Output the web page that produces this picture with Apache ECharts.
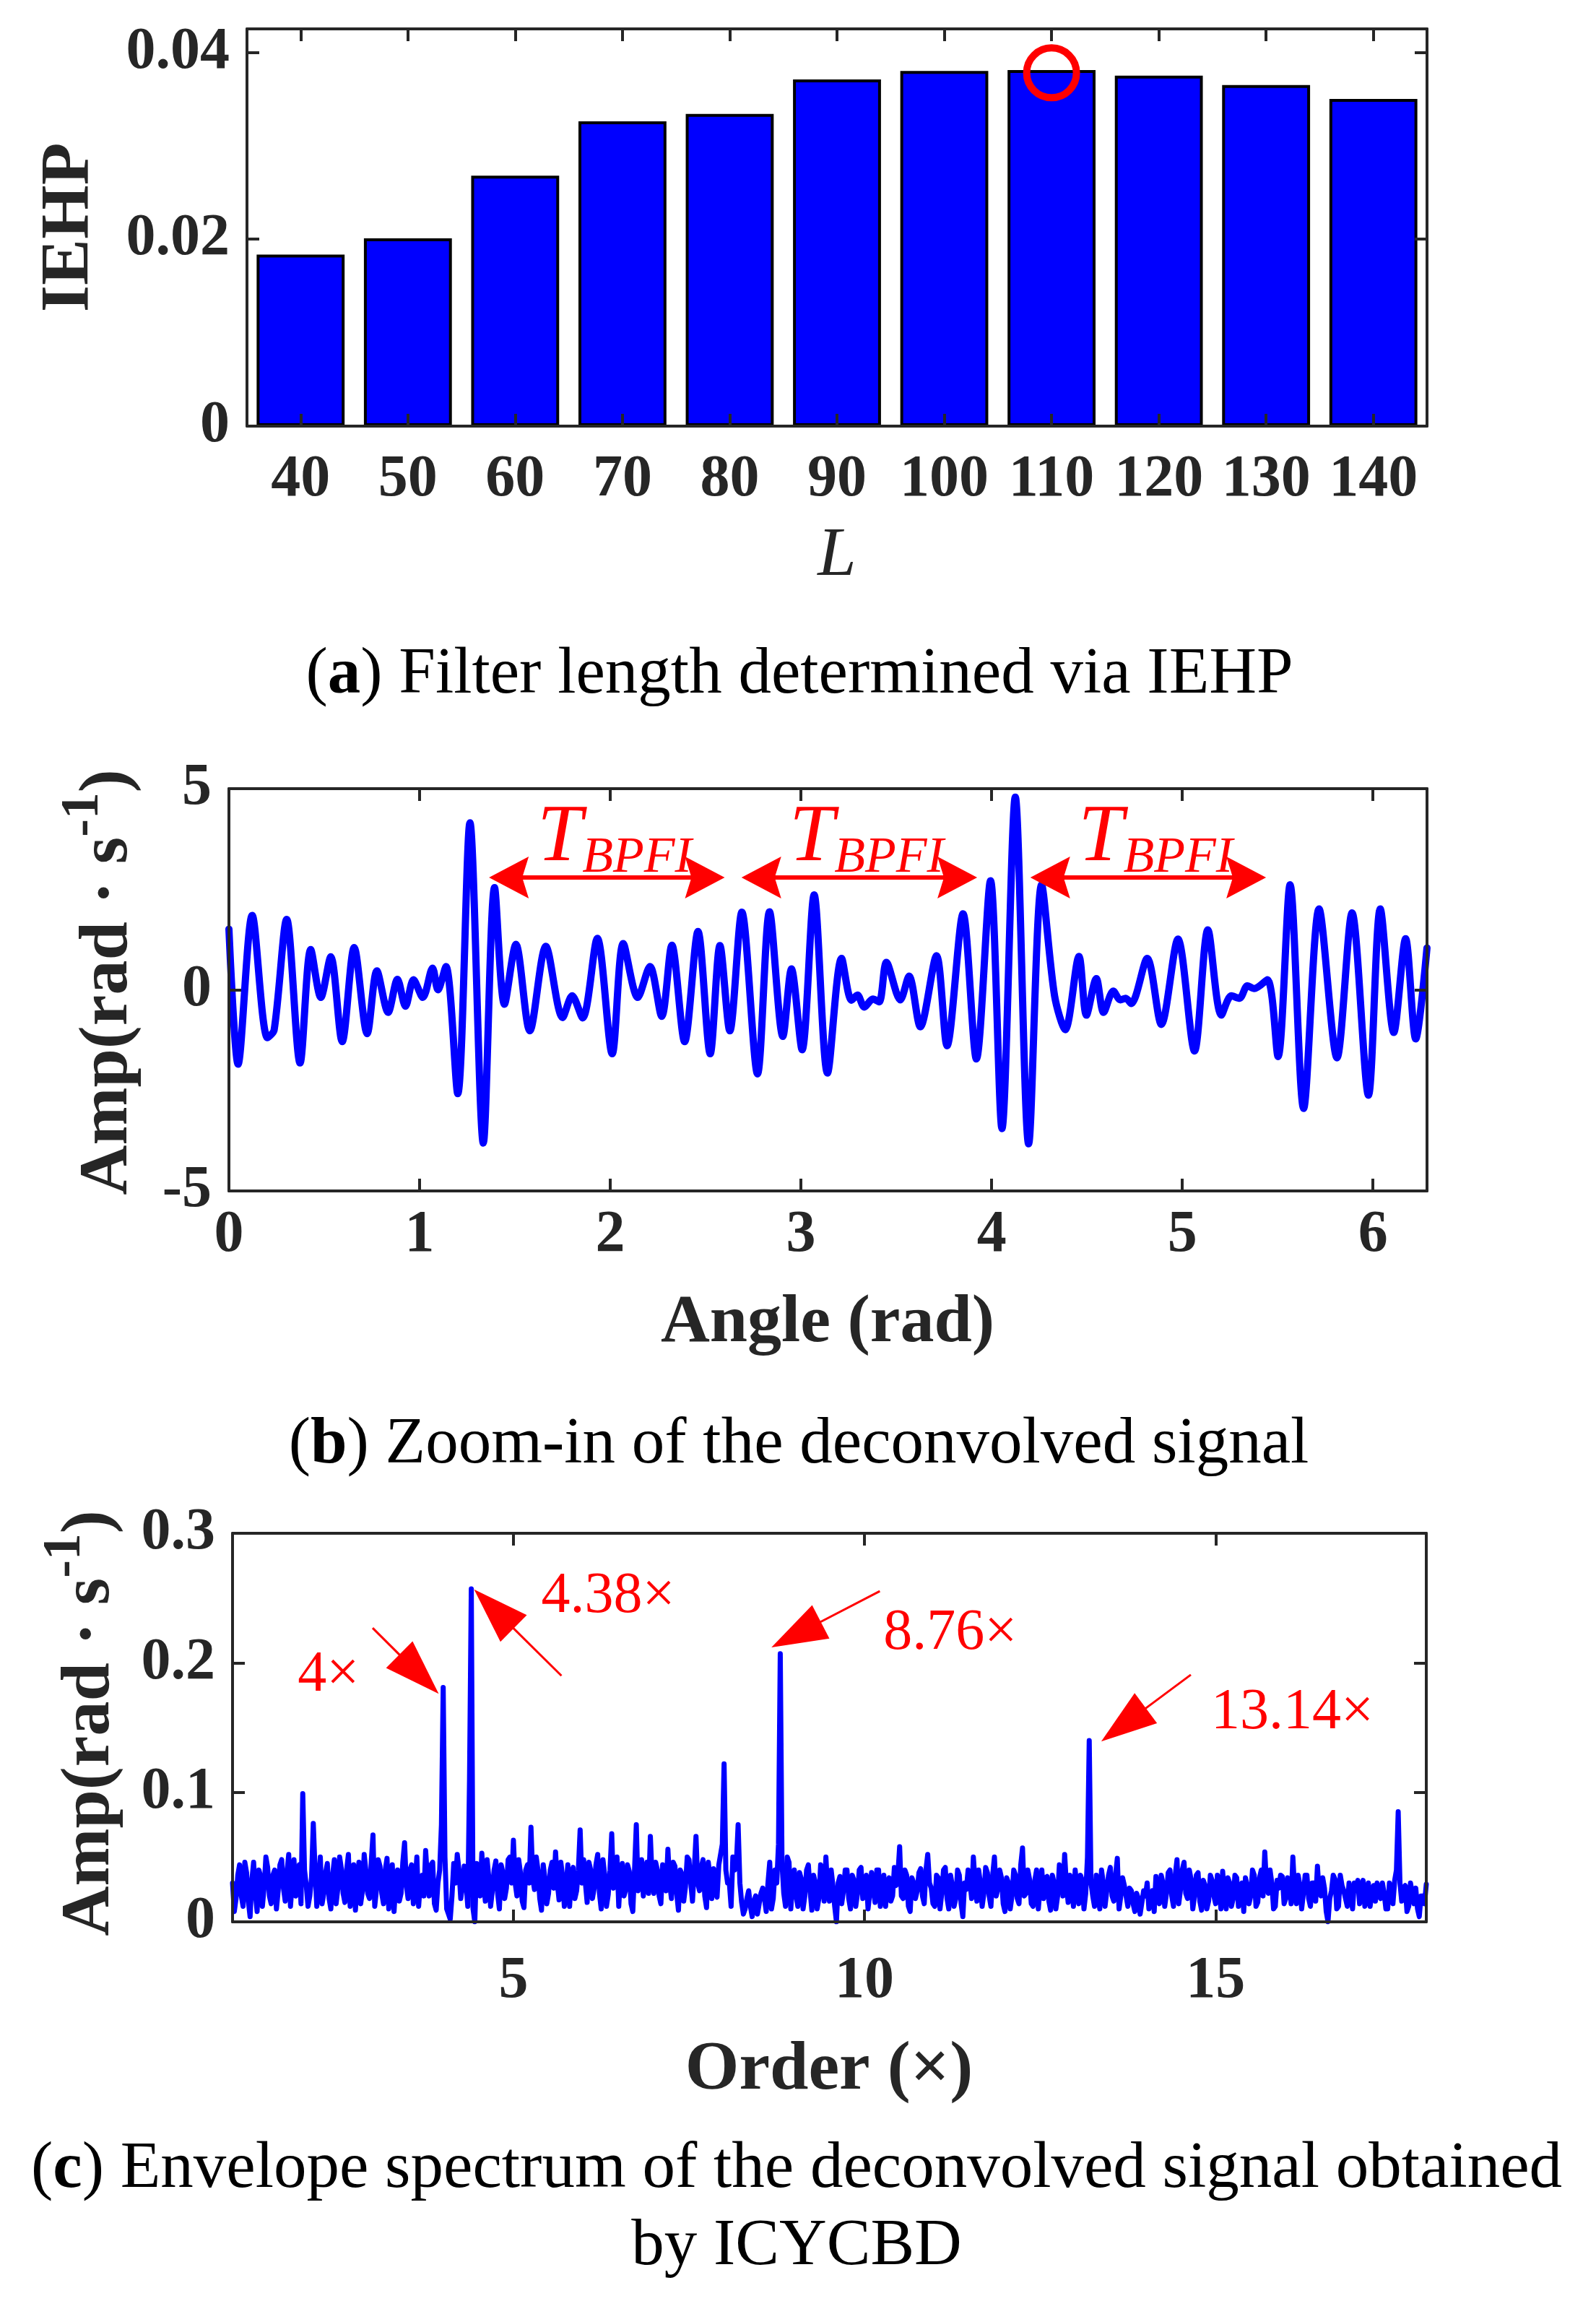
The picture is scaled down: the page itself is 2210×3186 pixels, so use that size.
<!DOCTYPE html>
<html><head><meta charset="utf-8">
<script src="https://cdn.jsdelivr.net/npm/echarts@6/dist/echarts.min.js"></script>
<style>html,body{margin:0;padding:0;background:#fff;}#chart{width:2210px;height:3186px;}</style>
</head><body><div id="chart"></div>
<script>
// ---------- (a) IEHP vs filter length ----------
const filterLengths = ['40','50','60','70','80','90','100','110','120','130','140'];
const iehpValues = [0.01835,0.0201,0.0268,0.0326,0.0334,0.0371,0.0380,0.0381,0.0375,0.0365,0.0350];
const bestLength = '110';
const bestMarkerValue = 0.0378;

// ---------- (b) deconvolved signal (peaks / troughs) ----------
const angleRad = [0.000,0.048,0.122,0.202,0.237,0.303,0.373,0.429,0.482,0.534,0.594,0.657,0.725,0.776,0.835,0.884,0.926,0.968,1.017,1.068,1.096,1.138,1.200,1.264,1.334,1.393,1.445,1.505,1.578,1.662,1.750,1.800,1.855,1.932,2.010,2.068,2.144,2.208,2.270,2.323,2.390,2.460,2.524,2.575,2.627,2.690,2.772,2.835,2.905,2.950,3.006,3.069,3.139,3.213,3.265,3.296,3.332,3.377,3.410,3.448,3.521,3.567,3.626,3.711,3.766,3.850,3.920,3.994,4.054,4.124,4.194,4.262,4.330,4.386,4.458,4.497,4.549,4.587,4.638,4.675,4.703,4.732,4.816,4.890,4.977,5.064,5.134,5.205,5.257,5.300,5.341,5.377,5.446,5.502,5.565,5.636,5.717,5.811,5.890,5.976,6.038,6.109,6.171,6.224,6.283];
const ampDeconv = [1.51,-1.85,1.85,-1.19,-1.00,1.75,-1.82,1.00,-0.19,0.82,-1.29,1.05,-1.09,0.47,-0.56,0.26,-0.41,0.25,-0.19,0.54,0.00,0.58,-2.58,4.15,-3.81,2.54,-0.36,1.13,-1.02,1.08,-0.69,-0.15,-0.70,1.28,-1.59,1.15,-0.19,0.58,-0.66,1.11,-1.29,1.45,-1.59,1.10,-1.02,1.93,-2.09,1.94,-1.16,0.52,-1.49,2.36,-2.07,0.78,-0.26,-0.13,-0.43,-0.23,-0.30,0.68,-0.25,0.34,-0.92,0.85,-1.39,1.89,-1.72,2.71,-3.45,4.79,-3.83,2.61,-0.15,-0.99,0.83,-0.63,0.28,-0.56,-0.03,-0.25,-0.21,-0.34,0.78,-0.86,1.26,-1.52,1.49,-0.63,-0.15,-0.21,0.10,0.03,0.25,-1.66,2.61,-2.95,2.01,-1.69,1.91,-2.62,2.01,-1.06,1.27,-1.22,1.04];
const bpfiArrowStarts = [1.364, 2.688, 4.203];
const bpfiArrowEnds = [2.600, 3.924, 5.439];
const bpfiArrowAmp = 2.79;
const bpfiLabelAngles = [1.617, 2.939, 4.455];
const bpfiLabelAmp = 3.70;

// ---------- (c) envelope spectrum: values at orders 1.00, 1.05, ... 18.00 ----------
const orderStart = 1;
const orderStep = 0.05;
const envAmp = [
0.030,0.018,0.044,0.012,0.038,0.004,0.046,0.008,0.035,0.027,0.042,0.014,0.040,0.024,0.048,0.016,0.052,0.030,0.020,0.044,
0.099,0.028,0.020,0.076,0.012,0.050,0.022,0.045,0.010,0.048,0.026,0.041,0.015,0.052,0.030,0.009,0.046,0.024,0.039,0.018,
0.067,0.025,0.043,0.014,0.049,0.028,0.008,0.040,0.022,0.061,0.018,0.044,0.030,0.012,0.036,0.055,0.020,0.046,0.009,0.040,
0.181,0.010,0.002,0.045,0.052,0.018,0.043,0.012,0.257,0.000,0.030,0.053,0.016,0.034,0.024,0.047,0.010,0.038,0.026,0.050,
0.063,0.020,0.038,0.011,0.044,0.073,0.025,0.040,0.009,0.033,0.022,0.046,0.054,0.017,0.035,0.028,0.012,0.042,0.024,0.071,
0.048,0.015,0.040,0.026,0.052,0.010,0.036,0.021,0.068,0.030,0.012,0.045,0.025,0.039,0.008,0.075,0.032,0.020,0.046,0.066,
0.022,0.040,0.014,0.035,0.056,0.018,0.043,0.009,0.037,0.027,0.048,0.016,0.066,0.024,0.048,0.011,0.034,0.041,0.019,0.052,
0.122,0.030,0.012,0.040,0.075,0.015,0.010,0.024,0.004,0.020,0.014,0.026,0.008,0.046,0.018,0.030,0.207,0.022,0.050,0.010,
0.040,0.012,0.033,0.020,0.044,0.009,0.030,0.018,0.038,0.050,0.016,0.028,0.000,0.035,0.024,0.040,0.010,0.032,0.022,0.042,
0.030,0.010,0.038,0.015,0.040,0.022,0.012,0.034,0.020,0.028,0.058,0.018,0.036,0.008,0.030,0.024,0.041,0.014,0.052,0.026,
0.012,0.034,0.022,0.042,0.010,0.028,0.018,0.036,0.004,0.025,0.032,0.050,0.016,0.030,0.022,0.038,0.012,0.050,0.026,0.034,
0.008,0.030,0.020,0.036,0.014,0.057,0.022,0.033,0.012,0.040,0.026,0.018,0.035,0.009,0.030,0.020,0.038,0.052,0.015,0.028,
0.040,0.014,0.032,0.022,0.140,0.020,0.036,0.010,0.030,0.024,0.042,0.016,0.049,0.020,0.028,0.012,0.024,0.008,0.018,0.015,
0.020,0.010,0.024,0.035,0.014,0.030,0.022,0.040,0.012,0.048,0.025,0.046,0.018,0.033,0.020,0.038,0.009,0.028,0.016,0.032,
0.014,0.026,0.039,0.010,0.030,0.018,0.034,0.022,0.008,0.028,0.020,0.036,0.015,0.040,0.054,0.022,0.030,0.012,0.026,0.035,
0.018,0.032,0.050,0.014,0.028,0.022,0.036,0.012,0.030,0.043,0.020,0.026,0.000,0.024,0.033,0.012,0.028,0.018,0.030,0.010,
0.026,0.014,0.032,0.020,0.012,0.028,0.030,0.018,0.022,0.010,0.024,0.032,0.085,0.016,0.028,0.012,0.022,0.026,0.004,0.020,
0.029];
// values at the in-between orders 1.025, 1.075, ... 17.975
const envAmpMid = [
0.008,0.036,0.020,0.046,0.016,0.032,0.022,0.040,0.012,0.050,0.020,0.036,0.010,0.044,0.026,0.038,0.012,0.048,0.036,0.014,
0.040,0.012,0.034,0.040,0.030,0.014,0.038,0.018,0.036,0.014,0.050,0.022,0.040,0.012,0.044,0.030,0.014,0.052,0.022,0.046,
0.012,0.048,0.022,0.040,0.010,0.044,0.030,0.016,0.046,0.028,0.040,0.014,0.050,0.030,0.020,0.034,0.044,0.014,0.030,0.075,
0.050,0.006,0.020,0.030,0.040,0.028,0.030,0.110,0.010,0.045,0.020,0.030,0.048,0.012,0.040,0.022,0.044,0.018,0.048,0.030,
0.030,0.048,0.016,0.040,0.030,0.034,0.050,0.018,0.044,0.014,0.040,0.026,0.030,0.046,0.012,0.044,0.036,0.018,0.040,0.030,
0.030,0.046,0.018,0.044,0.022,0.048,0.012,0.040,0.026,0.050,0.036,0.020,0.044,0.014,0.040,0.024,0.048,0.034,0.022,0.034,
0.046,0.020,0.044,0.024,0.030,0.046,0.022,0.040,0.016,0.050,0.030,0.040,0.030,0.042,0.020,0.046,0.018,0.024,0.044,0.060,
0.040,0.030,0.050,0.045,0.030,0.006,0.018,0.012,0.016,0.006,0.022,0.018,0.030,0.010,0.040,0.060,0.045,0.012,0.046,0.030,
0.020,0.038,0.010,0.040,0.024,0.036,0.010,0.044,0.016,0.024,0.040,0.012,0.030,0.014,0.040,0.018,0.036,0.012,0.040,0.018,
0.036,0.022,0.026,0.040,0.012,0.036,0.030,0.016,0.042,0.036,0.020,0.040,0.012,0.034,0.018,0.038,0.020,0.040,0.030,0.014,
0.036,0.010,0.040,0.018,0.036,0.012,0.040,0.014,0.030,0.040,0.018,0.030,0.040,0.012,0.042,0.020,0.036,0.020,0.040,0.014,
0.034,0.010,0.040,0.018,0.044,0.020,0.040,0.014,0.032,0.010,0.040,0.034,0.016,0.036,0.010,0.044,0.020,0.028,0.036,0.012,
0.026,0.036,0.010,0.050,0.030,0.012,0.022,0.040,0.012,0.036,0.020,0.036,0.010,0.034,0.020,0.026,0.014,0.022,0.006,0.024,
0.030,0.020,0.008,0.022,0.036,0.012,0.038,0.020,0.036,0.014,0.040,0.022,0.040,0.010,0.036,0.016,0.032,0.010,0.036,0.020,
0.036,0.010,0.020,0.034,0.012,0.036,0.012,0.030,0.034,0.014,0.040,0.012,0.034,0.020,0.028,0.040,0.010,0.032,0.036,0.014,
0.034,0.014,0.024,0.036,0.010,0.036,0.018,0.030,0.016,0.022,0.034,0.008,0.018,0.036,0.010,0.036,0.024,0.012,0.020,0.030,
0.032,0.024,0.012,0.030,0.022,0.016,0.020,0.030,0.010,0.030,0.014,0.040,0.030,0.026,0.008,0.030,0.014,0.010,0.020,0.014];
const orderTicks = [5, 10, 15];
const peakLabels = ['4×', '4.38×', '8.76×', '13.14×'];
const peakLabelPos = [[1.927, 0.190], [5.397, 0.2508], [10.268, 0.2226], [14.934, 0.161]];
const peakArrowTails = [[2.995, 0.2269], [5.684, 0.190], [10.218, 0.2553], [14.647, 0.1908]];
const peakArrowTips = [[3.936, 0.176], [4.440, 0.2567], [8.674, 0.2119], [13.371, 0.1393]];

// ---------- styling ----------
const SERIF = 'Liberation Serif';
const AXC = '#262626';
const BLUE = '#0000FF';
const RED = '#FF0000';

function axisBase(extra) {
  return Object.assign({
    axisLine: { show: true, onZero: false, lineStyle: { color: AXC, width: 4 } },
    axisTick: { show: true, inside: true, length: 17, lineStyle: { color: AXC, width: 4 } },
    splitLine: { show: false },
    z: 5
  }, extra);
}
const tickLabel = (margin, extra) => Object.assign({
  fontFamily: SERIF, fontWeight: 'bold', fontSize: 82, color: AXC, margin: margin
}, extra || {});

const spectrumPoints = [];
envAmp.forEach((v, i) => {
  spectrumPoints.push([orderStart + i * orderStep, v]);
  if (i < envAmpMid.length) spectrumPoints.push([orderStart + (i + 0.5) * orderStep, envAmpMid[i]]);
});

const chart = echarts.init(document.getElementById('chart'), null, { renderer: 'canvas' });

const option = {
  animation: false,
  backgroundColor: '#ffffff',
  grid: [
    { left: 342, top: 40, width: 1634, height: 550 },
    { left: 317, top: 1092, width: 1659, height: 557 },
    { left: 322, top: 2123, width: 1653, height: 538 }
  ],
  xAxis: [
    axisBase({ type: 'category', gridIndex: 0, position: 'bottom', data: filterLengths,
      axisTick: { show: true, inside: true, length: 17, alignWithLabel: true, interval: 0, lineStyle: { color: AXC, width: 4 } },
      axisLabel: tickLabel(34, { interval: 0, hideOverlap: false }) }),
    axisBase({ type: 'category', gridIndex: 0, position: 'top', data: filterLengths,
      axisTick: { show: true, inside: true, length: 17, alignWithLabel: true, interval: 0, lineStyle: { color: AXC, width: 4 } },
      axisLabel: { show: false } }),
    axisBase({ type: 'value', gridIndex: 1, position: 'bottom', min: 0, max: 2 * Math.PI, interval: 1,
      axisLabel: tickLabel(21, { showMaxLabel: false }) }),
    axisBase({ type: 'value', gridIndex: 1, position: 'top', min: 0, max: 2 * Math.PI, interval: 1,
      axisLabel: { show: false } }),
    axisBase({ type: 'value', gridIndex: 2, position: 'bottom', min: 1, max: 18,
      axisTick: { show: true, inside: true, length: 17, customValues: orderTicks, lineStyle: { color: AXC, width: 4 } },
      axisLabel: tickLabel(42, { customValues: orderTicks }) }),
    axisBase({ type: 'value', gridIndex: 2, position: 'top', min: 1, max: 18,
      axisTick: { show: true, inside: true, length: 17, customValues: orderTicks, lineStyle: { color: AXC, width: 4 } },
      axisLabel: { show: false } })
  ],
  yAxis: [
    axisBase({ type: 'value', gridIndex: 0, position: 'left', min: 0, max: 0.0425, interval: 0.02,
      axisLabel: tickLabel(24, { showMaxLabel: false }) }),
    axisBase({ type: 'value', gridIndex: 0, position: 'right', min: 0, max: 0.0425, interval: 0.02,
      axisLabel: { show: false } }),
    axisBase({ type: 'value', gridIndex: 1, position: 'left', min: -5, max: 5, interval: 5,
      axisLabel: tickLabel(24) }),
    axisBase({ type: 'value', gridIndex: 1, position: 'right', min: -5, max: 5, interval: 5,
      axisLabel: { show: false } }),
    axisBase({ type: 'value', gridIndex: 2, position: 'left', min: 0, max: 0.3, interval: 0.1,
      axisLabel: tickLabel(24) }),
    axisBase({ type: 'value', gridIndex: 2, position: 'right', min: 0, max: 0.3, interval: 0.1,
      axisLabel: { show: false } })
  ],
  series: [
    { type: 'bar', xAxisIndex: 0, yAxisIndex: 0, data: iehpValues, barWidth: '82%',
      itemStyle: { color: BLUE, borderColor: '#000000', borderWidth: 4 }, z: 2 },
    { type: 'scatter', xAxisIndex: 0, yAxisIndex: 0, data: [[bestLength, bestMarkerValue]],
      symbol: 'circle', symbolSize: 69,
      itemStyle: { color: 'rgba(0,0,0,0)', borderColor: RED, borderWidth: 10, opacity: 1 }, z: 10 },
    { type: 'line', xAxisIndex: 2, yAxisIndex: 2, data: angleRad.map((a, i) => [a, ampDeconv[i]]),
      showSymbol: false, smooth: 0.3, clip: true,
      lineStyle: { color: BLUE, width: 10, join: 'round', cap: 'round' }, z: 3 },
    { type: 'line', xAxisIndex: 4, yAxisIndex: 4, data: spectrumPoints,
      showSymbol: false, smooth: false, clip: true,
      lineStyle: { color: BLUE, width: 7, join: 'round', cap: 'round' }, z: 3 }
  ]
};
chart.setOption(option);

// ---------- annotations & texts ----------
function px(axisIdx, pt) { return chart.convertToPixel({ xAxisIndex: axisIdx, yAxisIndex: axisIdx }, pt); }
function txt(x, y, text, font, extra) {
  return Object.assign({ type: 'text', x: x, y: y, z: 50,
    style: Object.assign({ text: text, fontFamily: SERIF, fill: '#000', align: 'center', verticalAlign: 'middle',
      textAlign: 'center', textVerticalAlign: 'middle' }, font) }, extra || {});
}
function headPoints(tip, dir, len, halfW, notch) {
  const n = [-dir[1], dir[0]];
  const bx = tip[0] - dir[0] * len, by = tip[1] - dir[1] * len;
  const pts = [tip, [bx + n[0] * halfW, by + n[1] * halfW]];
  if (notch) pts.push([tip[0] - dir[0] * notch, tip[1] - dir[1] * notch]);
  pts.push([bx - n[0] * halfW, by - n[1] * halfW]);
  return pts;
}
const graphics = [];

// axis titles and captions
graphics.push(txt(97, 315, 'IEHP', { fontSize: 96, fontWeight: 'bold', fill: AXC }, { rotation: Math.PI / 2 }));
graphics.push(txt(1159, 771, 'L', { fontSize: 96, fontStyle: 'italic', fill: AXC }));
const capRich = { n: { fontFamily: SERIF, fontSize: 91, fill: '#000' }, b: { fontFamily: SERIF, fontSize: 91, fontWeight: 'bold', fill: '#000' } };
graphics.push(txt(1107, 935, '{n|(}{b|a}{n|) Filter length determined via IEHP}', { rich: capRich }));

const ampRich = {
  m: { fontFamily: SERIF, fontSize: 96, fontWeight: 'bold', fill: AXC, lineHeight: 142, verticalAlign: 'middle' },
  s: { fontFamily: SERIF, fontSize: 74, fontWeight: 'bold', fill: AXC, lineHeight: 74, verticalAlign: 'top' }
};
const ampName = '{m|Amp(rad · s}{s|-1}{m|)}';
graphics.push(txt(150, 1360, ampName, { rich: ampRich }, { rotation: Math.PI / 2 }));
graphics.push(txt(1146, 1833, 'Angle (rad)', { fontSize: 94, fontWeight: 'bold', fill: AXC }));
graphics.push(txt(1106, 2001, '{n|(}{b|b}{n|) Zoom-in of the deconvolved signal}', { rich: capRich }));

graphics.push(txt(125, 2386, ampName, { rich: ampRich }, { rotation: Math.PI / 2 }));
graphics.push(txt(1148, 2867, 'Order (×)', { fontSize: 96, fontWeight: 'bold', fill: AXC }));
graphics.push(txt(1103, 3004, '{n|(}{b|c}{n|) Envelope spectrum of the deconvolved signal obtained}', { rich: capRich }));
graphics.push(txt(1103, 3111, 'by ICYCBD', { fontSize: 91, fill: '#000' }));

// (b) T_BPFI labels and double arrows
const tRich = {
  t: { fontFamily: SERIF, fontStyle: 'italic', fontSize: 112, fill: RED, lineHeight: 118, verticalAlign: 'top' },
  s: { fontFamily: SERIF, fontStyle: 'italic', fontSize: 70, fill: RED, lineHeight: 58, verticalAlign: 'bottom' }
};
bpfiLabelAngles.forEach((a) => {
  const p = px(2, [a, bpfiLabelAmp]);
  graphics.push(txt(p[0], p[1], '{t|T}{s|BPFI}', { rich: tRich, align: 'left', textAlign: 'left' }));
});
bpfiArrowStarts.forEach((a, i) => {
  const p1 = px(2, [a, bpfiArrowAmp]);
  const p2 = px(2, [bpfiArrowEnds[i], bpfiArrowAmp]);
  const dx = p2[0] - p1[0], dy = p2[1] - p1[1], L = Math.hypot(dx, dy);
  const d = [dx / L, dy / L];
  graphics.push({ type: 'line', z: 60, shape: { x1: p1[0] + d[0] * 45, y1: p1[1] + d[1] * 45, x2: p2[0] - d[0] * 45, y2: p2[1] - d[1] * 45 },
    style: { stroke: RED, lineWidth: 6 } });
  graphics.push({ type: 'polygon', z: 61, shape: { points: headPoints(p2, d, 55, 29, 46) }, style: { fill: RED } });
  graphics.push({ type: 'polygon', z: 61, shape: { points: headPoints(p1, [-d[0], -d[1]], 55, 29, 46) }, style: { fill: RED } });
});

// (c) peak labels and arrows
peakLabels.forEach((lab, i) => {
  const p = px(4, peakLabelPos[i]);
  graphics.push(txt(p[0], p[1], lab, { fontSize: 80, fill: RED, align: 'left', textAlign: 'left' }));
  const tail = px(4, peakArrowTails[i]);
  const tip = px(4, peakArrowTips[i]);
  const dx = tip[0] - tail[0], dy = tip[1] - tail[1], L = Math.hypot(dx, dy);
  const d = [dx / L, dy / L];
  graphics.push({ type: 'line', z: 60, shape: { x1: tail[0], y1: tail[1], x2: tip[0] - d[0] * 70, y2: tip[1] - d[1] * 70 },
    style: { stroke: RED, lineWidth: 3 } });
  graphics.push({ type: 'polygon', z: 61, shape: { points: headPoints(tip, d, 77, 26, 0) }, style: { fill: RED } });
});

chart.setOption({ graphic: graphics });
</script>
</body></html>
